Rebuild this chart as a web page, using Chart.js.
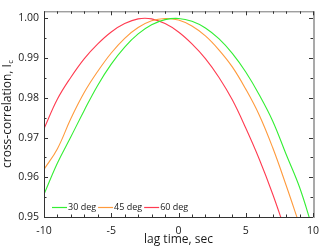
<!DOCTYPE html>
<html>
<head>
<meta charset="utf-8">
<script src="https://cdn.jsdelivr.net/npm/chart.js@4"></script>
<style>
  html, body { margin: 0; padding: 0; background: #fff; }
  #wrap { width: 319px; height: 249px; position: relative; }
</style>
</head>
<body>
<div id="wrap"><canvas id="corrChart"></canvas></div>
<script>
// lag time in seconds
const lagTimes = [-10, -9, -8, -7, -6, -5, -4, -3, -2, -1, 0, 1, 2, 3, 4, 5, 6, 7, 8, 9, 10];

// cross-correlation (curves leave the frame below 0.95)
const corr30 = [0.9557, 0.9636, 0.9702, 0.9769, 0.9832, 0.9885, 0.9928, 0.9961, 0.9984, 0.9997, 1.0000,
  0.9993, 0.9976, 0.9949, 0.9912, 0.9865, 0.9808, 0.9742, 0.9658, 0.9575, 0.9468];
const corr45 = [0.9620, 0.9672, 0.9748, 0.9814, 0.9867, 0.9913, 0.9950, 0.9977, 0.9994, 1.0000, 0.9996,
  0.9981, 0.9956, 0.9921, 0.9878, 0.9822, 0.9757, 0.9675, 0.9580, 0.9480];
const corr60 = [0.9722, 0.9797, 0.9852, 0.9899, 0.9936, 0.9966, 0.9987, 0.9999, 0.9999, 0.9987, 0.9966,
  0.9936, 0.9899, 0.9852, 0.9795, 0.9724, 0.9646, 0.9558, 0.9460];

const seriesLabels = ["30 deg", "45 deg", "60 deg"];
const seriesColors = ["#33ee33", "#ff9a3c", "#ff3b50"];

const xTicks = [-10, -5, 0, 5, 10];
const yTicks = [0.95, 0.96, 0.97, 0.98, 0.99, 1.0];

const FONT = "'Open Sans', sans-serif";
const TEXT = "#1a1a1a";

function toPoints(values) {
  return values.map((v, i) => ({ x: lagTimes[i], y: v }));
}

// inward ticks + frame, drawn on top of the curves
const framePlugin = {
  id: "frame",
  afterDraw(chart) {
    const { ctx, chartArea: a, scales } = chart;
    const x = scales.x;
    const y = scales.y;
    ctx.save();

    ctx.strokeStyle = "#a9a9a9";
    ctx.lineWidth = 2;
    ctx.beginPath();
    ctx.moveTo(a.right + 1, a.top);
    ctx.lineTo(a.right + 1, a.bottom + 1);
    ctx.stroke();

    ctx.strokeStyle = "#333";
    ctx.lineWidth = 1;
    ctx.beginPath();
    ctx.moveTo(a.left + 0.5, a.top);
    ctx.lineTo(a.left + 0.5, a.bottom + 1);
    ctx.moveTo(a.left, a.bottom + 0.5);
    ctx.lineTo(a.right, a.bottom + 0.5);
    ctx.stroke();

    ctx.strokeStyle = "#777";
    ctx.beginPath();
    ctx.moveTo(a.left, a.top + 0.5);
    ctx.lineTo(a.right, a.top + 0.5);
    ctx.stroke();

    ctx.strokeStyle = "#333";
    ctx.beginPath();
    for (let v = x.min; v <= x.max + 1e-9; v += 1) {
      const px = Math.round(x.getPixelForValue(v)) + 0.5;
      const len = xTicks.includes(Math.round(v)) ? 4 : 2.5;
      ctx.moveTo(px, a.bottom);
      ctx.lineTo(px, a.bottom - len);
      ctx.moveTo(px, a.top);
      ctx.lineTo(px, a.top + len);
    }
    for (let i = 0; i <= 10; i++) {
      const v = 0.95 + i * 0.005;
      const py = Math.round(y.getPixelForValue(v)) + 0.5;
      const len = i % 2 === 0 ? 4 : 2.5;
      ctx.moveTo(a.left, py);
      ctx.lineTo(a.left + len, py);
      ctx.moveTo(a.right, py);
      ctx.lineTo(a.right - len, py);
    }
    ctx.stroke();
    ctx.restore();
  },
};

// legend inside the plot, bottom left
const insideLegend = {
  id: "insideLegend",
  afterDraw(chart) {
    const { ctx, chartArea: a } = chart;
    ctx.save();
    ctx.font = "9px " + FONT;
    ctx.textBaseline = "middle";
    ctx.fillStyle = TEXT;
    let px = a.left + 8;
    const py = a.bottom - 9.5;
    chart.data.datasets.forEach((ds) => {
      ctx.strokeStyle = ds.borderColor;
      ctx.lineWidth = 1.2;
      ctx.beginPath();
      ctx.moveTo(px, py);
      ctx.lineTo(px + 15, py);
      ctx.stroke();
      px += 16;
      ctx.fillText(ds.label, px, py);
      px += ctx.measureText(ds.label).width + 2;
    });
    ctx.restore();
  },
};

// y title with subscript c
const yTitle = {
  id: "yTitle",
  afterDraw(chart) {
    const { ctx, chartArea: a } = chart;
    const main = "cross-correlation, I";
    const sub = "c";
    ctx.save();
    ctx.fillStyle = TEXT;
    ctx.font = "12px " + FONT;
    const w1 = ctx.measureText(main).width;
    ctx.font = "8px " + FONT;
    const w2 = ctx.measureText(sub).width;
    ctx.translate(11, (a.top + a.bottom) / 2);
    ctx.rotate(-Math.PI / 2);
    ctx.textBaseline = "alphabetic";
    const start = -(w1 + w2) / 2;
    ctx.font = "12px " + FONT;
    ctx.fillText(main, start, 0);
    ctx.font = "8px " + FONT;
    ctx.fillText(sub, start + w1 + 0.5, 2);
    ctx.restore();
  },
};

Chart.defaults.font.family = FONT;
Chart.defaults.color = TEXT;

new Chart(document.getElementById("corrChart"), {
  type: "line",
  data: {
    datasets: [corr30, corr45, corr60].map((vals, i) => ({
      label: seriesLabels[i],
      data: toPoints(vals),
      borderColor: seriesColors[i],
      backgroundColor: seriesColors[i],
      borderWidth: 1.1,
      pointRadius: 0,
      tension: 0.4,
    })),
  },
  options: {
    responsive: true,
    maintainAspectRatio: false,
    animation: false,
    devicePixelRatio: 1,
    layout: { padding: { top: 1, right: 6, left: 0, bottom: 0 } },
    plugins: {
      legend: { display: false },
      tooltip: { enabled: false },
    },
    scales: {
      x: {
        type: "linear",
        min: -10,
        max: 10,
        afterBuildTicks: (s) => { s.ticks = xTicks.map((v) => ({ value: v })); },
        afterFit: (s) => {
          s.height = 32;
          s.paddingLeft = 0;
          s.paddingRight = 0;
        },
        grid: { display: false, drawTicks: false },
        border: { display: false },
        ticks: {
          font: { size: 10.5 },
          padding: 8,
          maxRotation: 0,
          autoSkip: false,
        },
        title: {
          display: true,
          text: "lag time, sec",
          font: { size: 12 },
          padding: { top: 0, bottom: 2 },
        },
      },
      y: {
        min: 0.95,
        max: 1.0018,
        afterBuildTicks: (s) => { s.ticks = yTicks.map((v) => ({ value: v })); },
        afterFit: (s) => { s.width = 44; },
        grid: { display: false, drawTicks: false },
        border: { display: false },
        ticks: {
          font: { size: 10.5 },
          padding: 5,
          callback: (v) => Number(v).toFixed(2),
        },
      },
    },
  },
  plugins: [framePlugin, insideLegend, yTitle],
});
</script>
</body>
</html>
